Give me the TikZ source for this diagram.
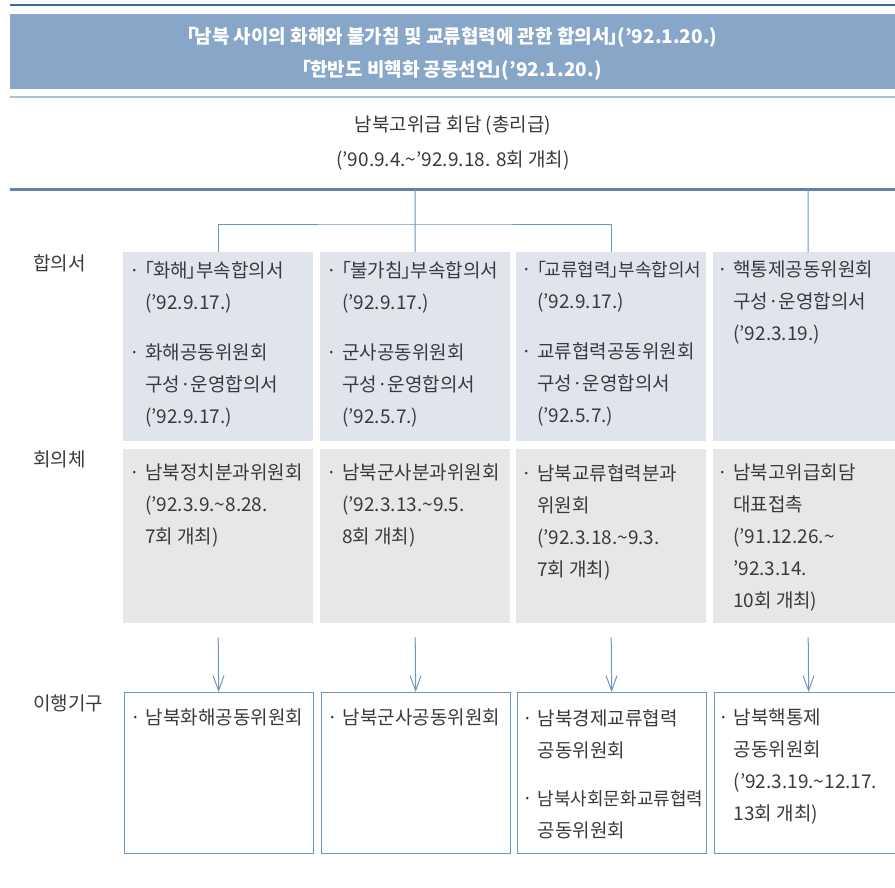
\documentclass[tikz,border=0pt]{standalone}
\usepackage{fontspec}
\setmainfont{Noto Sans CJK KR}
\newfontfamily\halfbr[RawFeature=+halt]{Noto Sans CJK KR}
\usetikzlibrary{arrows.meta}
\definecolor{topline}{HTML}{3E6A99}
\definecolor{band}{HTML}{87A6C8}
\definecolor{bandline}{HTML}{A9C3DC}
\definecolor{mainline}{HTML}{5C84AC}
\definecolor{conncol}{HTML}{6D95C0}
\definecolor{rowone}{HTML}{E0E4EC}
\definecolor{rowtwo}{HTML}{E6E7E9}
\definecolor{rowthree}{HTML}{6A97C4}
\definecolor{txtcol}{HTML}{3A3A3A}
\newcommand{\lbr}{{\halfbr 「}\kern-1.5pt}
\newcommand{\rbr}{\kern-1.5pt{\halfbr 」}}
\newcommand{\bul}{\llap{·\hspace{5pt}}}
\newcommand{\tld}{\textasciitilde}
\tikzset{
  boxone/.style={fill=rowone, draw=none, minimum width=190pt, minimum height=189pt, inner sep=0pt, anchor=north west},
  boxtwo/.style={fill=rowtwo, draw=none, minimum width=190pt, minimum height=174pt, inner sep=0pt, anchor=north west},
  boxthree/.style={draw=rowthree, line width=1.3pt, fill=white, minimum width=189pt, minimum height=161pt, inner sep=0pt, anchor=north west},
  txt/.style={text=txtcol, font=\fontsize{19}{32}\selectfont, align=left, inner sep=0pt, anchor=north west},
  lbl/.style={text=txtcol, font=\fontsize{19}{20}\selectfont, inner sep=0pt, anchor=base west},
  conn/.style={draw=conncol, line width=1pt},
  arr/.style={draw=conncol, line width=1pt, -{Straight Barb[length=15pt,width=11pt,line width=1pt]}},
}
\begin{document}
\begin{tikzpicture}[x=1pt,y=-1pt]
\clip (0,0) rectangle (895,887);
\fill[white] (0,0) rectangle (895,887);
% header
\coordinate (tl) at (10,5); \coordinate (tr) at (900,5);
\draw[topline, line width=2.2pt] (tl) -- (tr);
\node[fill=band, minimum width=890pt, minimum height=75pt, inner sep=0pt, anchor=north west] (head) at (10,14) {};
\node[text=white, font=\bfseries\fontsize{19}{33}\selectfont, align=center, inner sep=0pt] (headtxt) at (452,53.5)
  {\lbr 남북 사이의 화해와 불가침 및 교류협력에 관한 합의서\rbr(’92.1.20.)\\
   \lbr 한반도 비핵화 공동선언\rbr(’92.1.20.)};
\coordinate (bl) at (10,97); \coordinate (br) at (900,97);
\draw[bandline, line width=2pt] (bl) -- (br);
% top meeting
\node[text=txtcol, font=\fontsize{19}{35}\selectfont, align=center, inner sep=0pt, anchor=north] (meet) at (453,116)
  {남북고위급 회담 (총리급)\\(’90.9.4.\tld’92.9.18. 8회 개최)};
\coordinate (ml) at (10,189); \coordinate (mr) at (900,189);
\draw[mainline, line width=3pt] (ml) -- (mr);
% row labels
\node[lbl] (l1) at (33,270) {합의서};
\node[lbl] (l2) at (33,466) {회의체};
\node[lbl] (l3) at (33,710) {이행기구};
% row 1 boxes
\node[boxone] (b11) at (123,252) {};
\node[boxone] (b12) at (320,252) {};
\node[boxone] (b13) at (516,252) {};
\node[boxone] (b14) at (713,252) {};
% row 2 boxes
\node[boxtwo] (b21) at (123,449) {};
\node[boxtwo] (b22) at (320,449) {};
\node[boxtwo] (b23) at (516,449) {};
\node[boxtwo] (b24) at (713,449) {};
% row 3 boxes
\node[boxthree] (b31) at (123.5,692) {};
\node[boxthree] (b32) at (320.5,692) {};
\node[boxthree] (b33) at (516.5,692) {};
\node[boxthree] (b34) at (713.5,692) {};
% connectors
\coordinate (t2) at (415,189);
\coordinate (t4) at (808,189);
\coordinate (j) at (415,224);
\draw[conn] (t2) -- (b12.north);
\draw[conn] (b11.north) |- (j) -| (b13.north);
\draw[conn] (t4) -- (b14.north);
% arrows
\draw[arr] ([yshift=-14pt]b21.south) -- (b31.north);
\draw[arr] ([yshift=-14pt]b22.south) -- (b32.north);
\draw[arr] ([yshift=-14pt]b23.south) -- (b33.north);
\draw[arr] ([yshift=-14pt]b24.south) -- (b34.north);
% row 1 text
\node[txt] (x11) at ([shift={(22,9)}]b11.north west)
  {\bul\lbr 화해\rbr 부속합의서\\(’92.9.17.)\\[18pt]\bul 화해공동위원회\\구성·운영합의서\\(’92.9.17.)};
\node[txt] (x12) at ([shift={(22,9)}]b12.north west)
  {\bul\lbr 불가침\rbr 부속합의서\\(’92.9.17.)\\[18pt]\bul 군사공동위원회\\구성·운영합의서\\(’92.5.7.)};
\node[txt] (x13) at ([shift={(21,9)}]b13.north west)
  {\bul{\fontsize{18}{32}\selectfont\lbr 교류협력\rbr 부속합의서}\\(’92.9.17.)\\[18pt]\bul 교류협력공동위원회\\구성·운영합의서\\(’92.5.7.)};
\node[txt] (x14) at ([shift={(20,9)}]b14.north west)
  {\bul 핵통제공동위원회\\구성·운영합의서\\(’92.3.19.)};
% row 2 text
\node[txt] (x21) at ([shift={(22,15)}]b21.north west)
  {\bul 남북정치분과위원회\\(’92.3.9.\tld 8.28.\\7회 개최)};
\node[txt] (x22) at ([shift={(22,15)}]b22.north west)
  {\bul 남북군사분과위원회\\(’92.3.13.\tld 9.5.\\8회 개최)};
\node[txt] (x23) at ([shift={(21,15)}]b23.north west)
  {\bul 남북교류협력분과\\위원회\\(’92.3.18.\tld 9.3.\\7회 개최)};
\node[txt] (x24) at ([shift={(20,15)}]b24.north west)
  {\bul 남북고위급회담\\대표접촉\\(’91.12.26.\tld\\’92.3.14.\\10회 개최)};
% row 3 text
\node[txt] (x31) at ([shift={(22,17)}]b31.north west) {\bul 남북화해공동위원회};
\node[txt] (x32) at ([shift={(22,17)}]b32.north west) {\bul 남북군사공동위원회};
\node[txt] (x33) at ([shift={(21,17)}]b33.north west)
  {\bul 남북경제교류협력\\공동위원회\\[16pt]\bul{\fontsize{18}{32}\selectfont 남북사회문화교류협력}\\공동위원회};
\node[txt] (x34) at ([shift={(20,17)}]b34.north west)
  {\bul 남북핵통제\\공동위원회\\(’92.3.19.\tld 12.17.\\13회 개최)};
\end{tikzpicture}
\end{document}
